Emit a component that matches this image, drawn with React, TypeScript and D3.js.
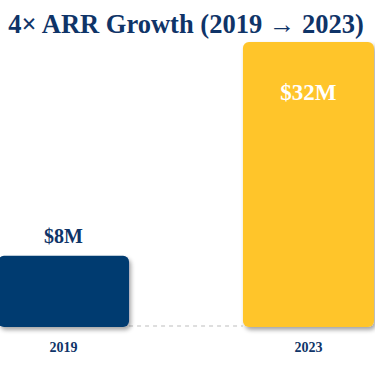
import * as d3 from "d3";

const years = ["2019", "2023"];
const arr = [8, 32];
const valueLabels = ["$8M", "$32M"];
const barColors = ["#003a70", "#ffc52c"];

const width = 375;
const height = 366;
const font = "'Liberation Serif', 'Times New Roman', serif";
const navy = "#0f3468";

export default function App() {
  const x = d3.scaleBand().domain(years).range([-2, 374]).paddingInner(0.465).paddingOuter(0);
  const y = d3.scaleLinear().domain([0, 32]).range([327, 42]);
  const bw = x.bandwidth();

  return (
    <svg
      width={width}
      height={height}
      viewBox={`0 0 ${width} ${height}`}
      style={{ position: "absolute", left: 0, top: 0, background: "#fff" }}
    >
      <defs>
        <filter id="barShadow" x="-20%" y="-20%" width="140%" height="140%">
          <feDropShadow dx="2" dy="3" stdDeviation="2" floodColor="#000" floodOpacity="0.35" />
        </filter>
      </defs>
      <text
        x={186}
        y={33}
        textAnchor="middle"
        fontFamily={font}
        fontWeight="bold"
        fontSize={26.5}
        fill={navy}
      >
        4× ARR Growth (2019 → 2023)
      </text>
      <line
        x1={(x(years[0]) ?? 0) + bw}
        x2={x(years[1]) ?? 0}
        y1={y(0) - 1}
        y2={y(0) - 1}
        stroke="#d4d4d4"
        strokeWidth={1.5}
        strokeDasharray="4 4"
      />
      {years.map((yr, i) => {
        const bx = x(yr) ?? 0;
        const top = y(arr[i]);
        const inside = i === 1;
        return (
          <g key={yr}>
            <rect
              x={bx}
              y={top}
              width={bw}
              height={y(0) - top}
              rx={6}
              fill={barColors[i]}
              filter="url(#barShadow)"
            />
            <text
              x={bx + bw / 2}
              y={inside ? top + 58 : top - 13}
              textAnchor="middle"
              fontFamily={font}
              fontWeight="bold"
              fontSize={inside ? 23 : 20}
              fill={inside ? "#fff" : navy}
            >
              {valueLabels[i]}
            </text>
            <text
              x={bx + bw / 2}
              y={352}
              textAnchor="middle"
              fontFamily={font}
              fontWeight="bold"
              fontSize={14}
              fill={navy}
            >
              {yr}
            </text>
          </g>
        );
      })}
    </svg>
  );
}
